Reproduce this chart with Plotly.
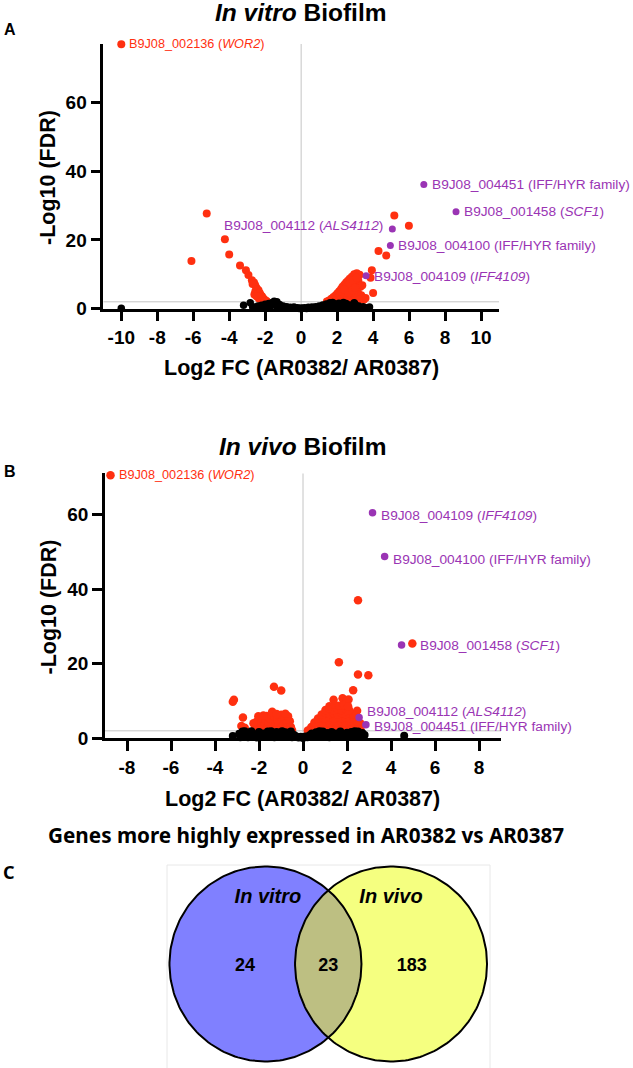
import numpy as np
import plotly.graph_objects as go

W, H = 633, 1068

# ---------------- data: panel A (in vitro biofilm) ----------------
vitro_red_x = [-10.0, -5.25, -6.1, -4.24, -4.0, -3.4, -3.07, -2.93, -2.74, -2.62, -2.56, -2.7,
               -2.5, -2.45, -2.37, -2.55, -2.3, -2.25, -2.4, -2.18, -2.12, -2.28, -2.05, -1.98,
               -2.15, -1.91, -2.35, -2.6, -2.48, -2.2, -2.08,
               1.43, 1.55, 1.68, 1.8, 1.92, 2.02, 2.12, 2.22, 2.3, 2.4, 2.5, 2.6, 2.7, 2.82, 2.95,
               3.09, 3.25, 1.7, 1.86, 2.0, 2.14, 2.28, 2.42, 2.58, 2.72, 2.88, 3.02, 3.18, 2.0, 2.18,
               2.38, 2.57, 2.78, 2.98, 3.14, 3.3, 2.3, 2.52, 2.76, 2.98, 3.19, 3.34, 3.4, 2.24, 2.48,
               2.68, 2.9, 3.08, 2.38, 2.64, 2.84, 3.0, 3.48, 3.58, 2.9, 3.2,
               3.93, 3.86, 4.0, 4.3, 4.73, 5.18, 5.99]
vitro_red_y = [76.9, 27.7, 13.9, 20.2, 15.8, 12.6, 11.2, 9.8, 8.3, 7.6, 6.9, 7.2,
               6.2, 5.7, 5.4, 5.0, 4.6, 4.0, 4.3, 3.6, 3.1, 3.3, 2.7, 2.4,
               2.6, 2.2, 3.0, 4.1, 3.6, 2.2, 2.0,
               2.1, 2.4, 2.9, 3.4, 3.9, 4.5, 5.1, 5.7, 6.4, 7.0, 7.6, 8.1, 8.7, 9.3, 10.0,
               10.3, 9.9, 2.2, 2.7, 3.1, 3.6, 4.2, 4.8, 5.5, 6.1, 6.8, 7.5, 8.2, 2.3, 2.7,
               3.2, 3.7, 4.3, 5.0, 5.7, 6.4, 2.1, 2.5, 2.9, 3.5, 4.3, 3.9, 6.8, 4.9, 6.1,
               7.1, 8.2, 9.0, 5.6, 4.6, 5.4, 6.1, 2.6, 3.1, 2.3, 2.7,
               11.2, 9.0, 4.6, 16.8, 15.5, 27.1, 24.1]

vitro_black_x = [-10.0, -3.2, -2.83, -2.7, -2.6, -2.5, -2.4, -2.3, -2.2, -2.1, -2.0, -1.9, -1.8,
                 -1.7, -1.6, -1.5, -1.45, -1.4, -1.35, -1.3, -1.2, -1.1, -1.0, -0.9, -0.8, -0.7,
                 -0.6, -0.5, -0.4, -0.3, -0.2, -0.1, 0.0, 0.1, 0.2, 0.3, 0.4, 0.5, 0.6, 0.7, 0.8,
                 0.9, 1.0, 1.1, 1.2, 1.3, 1.4, 1.5, 1.6, 1.7, 1.8, 1.9, 2.0, 2.1, 2.2, 2.3, 2.4,
                 2.5, 2.6, 2.7, 2.8, 2.9, 3.0, 3.1, 3.2, 3.3, 3.45, 3.6, 3.8, -1.55, -1.75, -2.45,
                 1.45, 1.75, 2.35, 2.95]
vitro_black_y = [0.1, 1.0, 1.7, 0.6, 0.3, 0.5, 0.8, 0.4, 1.0, 0.6, 1.3, 0.4, 1.5,
                 0.8, 1.8, 2.2, 1.6, 0.9, 2.0, 0.5, 1.2, 0.3, 0.8, 0.2, 0.6, 0.1,
                 0.4, 0.2, 0.5, 0.1, 0.3, 0.05, 0.2, 0.1, 0.3, 0.05, 0.4, 0.2, 0.5, 0.1, 0.6,
                 0.3, 0.8, 0.4, 1.1, 0.6, 1.4, 0.8, 1.7, 1.0, 0.5, 1.4, 0.9, 1.6, 0.6, 1.2, 0.4,
                 1.5, 0.8, 1.1, 0.3, 0.9, 1.3, 0.5, 0.8, 0.2, 0.6, 0.3, 0.5, 1.2, 0.3, 0.2,
                 0.2, 1.8, 1.8, 1.7]

vitro_purple_x = [6.82, 8.61, 5.07, 4.96, 3.61]
vitro_purple_y = [36.1, 28.2, 23.2, 18.4, 9.6]

vitro_lab_x = [-10.0, 6.82, 8.61, 5.07, 4.96, 3.61]
vitro_lab_y = [76.9, 36.2, 28.4, 24.1, 18.5, 9.5]
vitro_lab_text = ["B9J08_002136 (<i>WOR2</i>)", "B9J08_004451 (IFF/HYR family)",
                  "B9J08_001458 (<i>SCF1</i>)", "B9J08_004112 (<i>ALS4112</i>)",
                  "B9J08_004100 (IFF/HYR family)", "B9J08_004109 (<i>IFF4109</i>)"]
vitro_lab_side = ["right", "right", "right", "left", "right", "right"]
vitro_lab_kind = ["red", "purple", "purple", "purple", "purple", "purple"]
vitro_xticks = list(range(-10, 11, 2))

# ---------------- data: panel B (in vivo biofilm) ----------------
vivo_red_x = [-8.75, 2.5, 4.97, 1.63, 2.5, 2.97, 2.28, -1.32, -0.99, -3.19, -3.14, -2.73, -2.8,
              -2.65, 1.39, 1.8, 2.07, 1.98, 2.46, 2.6, 2.55,
              -2.2, -2.15, -2.1, -2.03, -1.95, -1.9, -1.85, -1.8, -1.75, -1.7, -1.65, -1.6, -1.55,
              -1.5, -1.45, -1.4, -1.4, -1.35, -1.3, -1.25, -1.2, -1.15, -1.1, -1.05, -0.99, -1.0,
              -0.95, -0.9, -0.85, -0.8, -0.75, -0.7, -0.68, -0.65, -0.6, -0.55, -2.05, -1.65,
              -1.25, -0.9, -0.5, -2.25, -1.8, -1.2, -0.8,
              0.22, 0.35, 0.5, 0.66, 0.8, 0.95, 1.1, 1.26, 1.4, 1.55, 1.7, 1.86, 2.0, 2.15, 2.3,
              2.45, 2.62, 0.38, 0.55, 0.72, 0.9, 1.08, 1.25, 1.42, 1.6, 1.78, 1.95, 2.12, 2.3,
              2.48, 0.52, 0.7, 0.88, 1.05, 1.22, 1.4, 1.58, 1.76, 1.94, 2.12, 2.3, 2.46, 0.68,
              0.86, 1.04, 1.22, 1.4, 1.58, 1.76, 1.94, 2.12, 2.3, 0.85, 1.03, 1.21, 1.39, 1.57,
              1.75, 1.93, 2.11, 2.28, 1.02, 1.2, 1.38, 1.56, 1.74, 1.92, 2.1, 1.2, 1.42, 1.64,
              1.86, 2.05]
vivo_red_y = [70.5, 37.0, 25.4, 20.4, 17.1, 16.9, 12.9, 13.8, 12.8, 9.8, 10.3, 5.6, 3.3,
              2.8, 10.3, 10.7, 10.4, 10.0, 7.4, 4.0, 2.5,
              2.3, 3.5, 4.5, 5.9, 3.0, 4.2, 5.2, 2.5, 3.6, 4.8, 6.0, 2.8, 4.0,
              5.3, 3.2, 7.1, 2.4, 4.5, 5.8, 3.4, 2.6, 4.9, 3.8, 6.0, 6.3, 2.9,
              4.4, 3.5, 5.4, 2.7, 4.1, 3.2, 5.9, 2.4, 4.6, 3.0, 2.7, 2.2,
              2.1, 2.2, 2.2, 4.0, 6.1, 6.5, 6.6,
              2.1, 2.4, 2.2, 2.5, 2.1, 2.4, 2.2, 2.5, 2.1, 2.4, 2.2, 2.5, 2.1, 2.4, 2.2,
              2.5, 2.2, 3.0, 3.4, 3.1, 3.5, 3.2, 3.4, 3.1, 3.5, 3.2, 3.4, 3.1, 3.5,
              3.2, 4.2, 4.6, 4.3, 4.5, 4.2, 4.6, 4.3, 4.5, 4.2, 4.6, 4.3, 4.5, 5.3,
              5.7, 5.4, 5.6, 5.3, 5.7, 5.4, 5.6, 5.3, 5.7, 6.4, 6.8, 6.5, 6.7, 6.4,
              6.8, 6.5, 6.7, 6.4, 7.6, 7.9, 7.5, 7.8, 7.6, 7.9, 7.5, 8.6, 9.0, 8.7,
              8.9, 8.6]

vivo_black_x = [-3.19, 4.6, -2.9, -2.75, -2.6, -2.5, -2.4, -2.3, -2.2, -2.1, -2.0, -1.9, -1.8,
                -1.7, -1.6, -1.5, -1.4, -1.3, -1.2, -1.1, -1.0, -0.9, -0.8, -0.7, -0.6, -0.5,
                -0.4, -0.3, -0.2, -0.1, 0.0, 0.1, 0.2, 0.3, 0.4, 0.5, 0.6, 0.7, 0.8, 0.9, 1.0,
                1.1, 1.2, 1.3, 1.4, 1.5, 1.6, 1.7, 1.8, 1.9, 2.0, 2.1, 2.2, 2.3, 2.4, 2.5, 2.6,
                2.7, 2.8, -2.85, -2.35, -1.45, -0.95, -0.55, 0.75, 1.25, 2.35, -1.75, -2.65]
vivo_black_y = [0.6, 0.7, 1.2, 1.8, 0.9, 0.3, 1.5, 0.6, 1.1, 0.2, 1.7, 0.8, 1.3,
                0.4, 1.8, 0.9, 1.4, 0.3, 1.7, 0.7, 1.2, 0.4, 1.6, 0.8, 1.1, 0.3,
                0.9, 0.5, 0.2, 0.4, 0.1, 0.5, 0.3, 0.8, 1.3, 0.6, 1.6, 0.4, 1.1, 1.8, 0.7,
                1.4, 0.3, 1.7, 0.9, 1.3, 0.5, 1.8, 1.0, 0.4, 1.5, 0.8, 1.7, 0.5, 1.2, 1.8, 0.7,
                1.4, 0.9, 0.3, 1.9, 1.9, 1.9, 1.8, 1.9, 1.0, 1.9, 0.9, 1.9]

vivo_purple_x = [3.16, 3.71, 4.48, 2.55, 2.86]
vivo_purple_y = [60.4, 48.7, 25.0, 5.6, 3.6]

vivo_lab_x = [-8.75, 3.16, 3.71, 4.97, 2.55, 2.86]
vivo_lab_y = [70.5, 59.7, 47.8, 24.8, 7.3, 3.1]
vivo_lab_text = ["B9J08_002136 (<i>WOR2</i>)", "B9J08_004109 (<i>IFF4109</i>)",
                 "B9J08_004100 (IFF/HYR family)", "B9J08_001458 (<i>SCF1</i>)",
                 "B9J08_004112 (<i>ALS4112</i>)", "B9J08_004451 (IFF/HYR family)"]
vivo_lab_side = ["right"] * 6
vivo_lab_kind = ["red", "purple", "purple", "purple", "purple", "purple"]
vivo_xticks = list(range(-8, 9, 2))

y_ticks = [0, 20, 40, 60]
fdr_cut = 2  # -log10 FDR threshold line

# ---------------- data: panel C (Venn) ----------------
venn_sets = ["In vitro", "In vivo"]
venn_counts = [24, 23, 183]  # in vitro only, both, in vivo only

RED = "#FF3010"
PURPLE = "#9A34B4"
BLUE_FILL = "#8080FF"
YELLOW_FILL = "#F5FF80"
OVERLAP_FILL = "#BDBF82"
AX_FONT = "Liberation Sans, Arial, sans-serif"
PPT_FONT = "Noto Sans, Lato, sans-serif"


def px(x):
    return x / W


def py(y):
    return 1 - y / H


fig = go.Figure()


def volcano(xa, ya, red, black, purple, labs, msize):
    fig.add_trace(go.Scatter(x=red[0], y=red[1], mode="markers", xaxis=xa, yaxis=ya,
                             marker=dict(color=RED, size=msize), cliponaxis=False,
                             showlegend=False, hoverinfo="skip"))
    fig.add_trace(go.Scatter(x=black[0], y=black[1], mode="markers", xaxis=xa, yaxis=ya,
                             marker=dict(color="black", size=msize - 0.5), cliponaxis=False,
                             showlegend=False, hoverinfo="skip"))
    fig.add_trace(go.Scatter(x=purple[0], y=purple[1], mode="markers", xaxis=xa, yaxis=ya,
                             marker=dict(color=PURPLE, size=msize - 1), cliponaxis=False,
                             showlegend=False, hoverinfo="skip"))
    for lx, ly, txt, side, kind in zip(*labs):
        red_lab = kind == "red"
        fig.add_annotation(x=lx, y=ly, xref=xa, yref=ya, text=txt, showarrow=False,
                           xanchor="left" if side == "right" else "right",
                           xshift=6 if side == "right" else -7,
                           font=dict(family=AX_FONT, size=12.7 if red_lab else 13.7,
                                     color=RED if red_lab else PURPLE))


volcano("x", "y", (vitro_red_x, vitro_red_y), (vitro_black_x, vitro_black_y),
        (vitro_purple_x, vitro_purple_y),
        (vitro_lab_x, vitro_lab_y, vitro_lab_text, vitro_lab_side, vitro_lab_kind), 8)
volcano("x2", "y2", (vivo_red_x, vivo_red_y), (vivo_black_x, vivo_black_y),
        (vivo_purple_x, vivo_purple_y),
        (vivo_lab_x, vivo_lab_y, vivo_lab_text, vivo_lab_side, vivo_lab_kind), 8.5)

tickfont = dict(family=AX_FONT, size=19, color="black", weight="bold")
common_x = dict(showline=True, linewidth=2.5, linecolor="black", ticks="outside", ticklen=10,
                tickwidth=2.5, tickcolor="black", showgrid=False, zeroline=False,
                tickfont=tickfont, fixedrange=True, automargin=False)
common_y = dict(common_x, tickvals=y_ticks, ticktext=[str(v) for v in y_ticks])

# reference lines: x = 0 and FDR threshold
for xa, ya, xr, ytop in [("x", "y", 11, 77), ("x2", "y2", 9, 71)]:
    fig.add_shape(type="line", xref=xa, yref=ya, x0=0, x1=0, y0=0, y1=ytop,
                  line=dict(color="#C4C4C4", width=1), layer="below")
    fig.add_shape(type="line", xref=xa, yref=ya, x0=-xr, x1=xr, y0=fdr_cut, y1=fdr_cut,
                  line=dict(color="#C4C4C4", width=1), layer="below")

# ---------------- Venn ----------------
r = 1.0
half_gap = 0.654
t = np.linspace(0, 2 * np.pi, 200)
theta = np.arccos(half_gap / r)
tl = np.linspace(-theta, theta, 80)
lens_x = np.concatenate([-half_gap + r * np.cos(tl), half_gap + r * np.cos(np.pi + tl)])
lens_y = np.concatenate([r * np.sin(tl), r * np.sin(np.pi + tl)])

for cx, fill in [(-half_gap, BLUE_FILL), (half_gap, YELLOW_FILL)]:
    fig.add_trace(go.Scatter(x=cx + r * np.cos(t), y=r * np.sin(t), mode="lines",
                             fill="toself", fillcolor=fill, line=dict(width=0),
                             xaxis="x3", yaxis="y3", showlegend=False, hoverinfo="skip"))
fig.add_trace(go.Scatter(x=lens_x, y=lens_y, mode="lines", fill="toself",
                         fillcolor=OVERLAP_FILL, line=dict(width=0),
                         xaxis="x3", yaxis="y3", showlegend=False, hoverinfo="skip"))
for cx in [-half_gap, half_gap]:
    fig.add_trace(go.Scatter(x=cx + r * np.cos(t), y=r * np.sin(t), mode="lines",
                             line=dict(color="black", width=2),
                             xaxis="x3", yaxis="y3", showlegend=False, hoverinfo="skip"))

fig.add_trace(go.Scatter(x=[-half_gap - 0.213, 0, half_gap + 0.215], y=[-0.03] * 3,
                         mode="text", text=[str(c) for c in venn_counts],
                         textfont=dict(family=AX_FONT, size=18, color="black", weight="bold"),
                         xaxis="x3", yaxis="y3", showlegend=False, hoverinfo="skip"))
fig.add_trace(go.Scatter(x=[-half_gap + 0.026, half_gap], y=[0.68, 0.68], mode="text",
                         text=[f"<i>{s}</i>" for s in venn_sets],
                         textfont=dict(family=AX_FONT, size=20, color="black", weight="bold"),
                         xaxis="x3", yaxis="y3", showlegend=False, hoverinfo="skip"))

venn_px = 96.0
venn_cx, venn_cy = 328.25, 964.0
venn_ry = 97.5

fig.update_layout(
    width=W, height=H, margin=dict(l=0, r=0, t=0, b=0),
    paper_bgcolor="white", plot_bgcolor="white",
    xaxis=dict(common_x, domain=[px(103.3), px(499)], range=[-11, 11],
               tickvals=vitro_xticks, ticktext=[str(v) for v in vitro_xticks], anchor="y"),
    yaxis=dict(common_y, domain=[py(308.7), py(44)], range=[0, 77], anchor="x"),
    xaxis2=dict(common_x, domain=[px(105), px(501)], range=[-9, 9],
                tickvals=vivo_xticks, ticktext=[str(v) for v in vivo_xticks], anchor="y2"),
    yaxis2=dict(common_y, domain=[py(738.3), py(473.3)], range=[0, 71], anchor="x2"),
    xaxis3=dict(domain=[0, 1], range=[-venn_cx / venn_px, (W - venn_cx) / venn_px],
                visible=False, fixedrange=True, anchor="y3"),
    yaxis3=dict(domain=[0, py(860)], range=[-(H - venn_cy) / venn_ry, (venn_cy - 860) / venn_ry],
                visible=False, fixedrange=True, anchor="x3"),
)

# faint frame around the Venn picture
fig.add_shape(type="rect", xref="paper", yref="paper", x0=px(167), x1=px(490),
              y0=-0.01, y1=py(865), line=dict(color="#E8E8E8", width=1), layer="below")


def label(x, y, text, size, family=AX_FONT, angle=0, weight="bold"):
    fig.add_annotation(x=px(x), y=py(y), xref="paper", yref="paper", text=text,
                       showarrow=False, textangle=angle, xanchor="center", yanchor="middle",
                       font=dict(family=family, size=size, color="black", weight=weight))


label(301, 13, "<i>In vitro</i> Biofilm", 24.5)
label(302, 446, "<i>In vivo</i> Biofilm", 24.5)
label(10, 30, "A", 16)
label(10, 471.5, "B", 16)
label(9, 872, "C", 18, family=PPT_FONT)
label(301.5, 367.7, "Log2 FC (AR0382/ AR0387)", 21.5)
label(302, 799, "Log2 FC (AR0382/ AR0387)", 21.5)
label(48, 178, "-Log10 (FDR)", 21.5, angle=-90)
label(48, 607.5, "-Log10 (FDR)", 21.5, angle=-90)
label(305.6, 835, "Genes more highly expressed in AR0382 vs AR0387", 20.7, family=PPT_FONT)

fig.write_html("out.html", config={"displayModeBar": False},
               post_script="document.body.style.margin='0px';")
